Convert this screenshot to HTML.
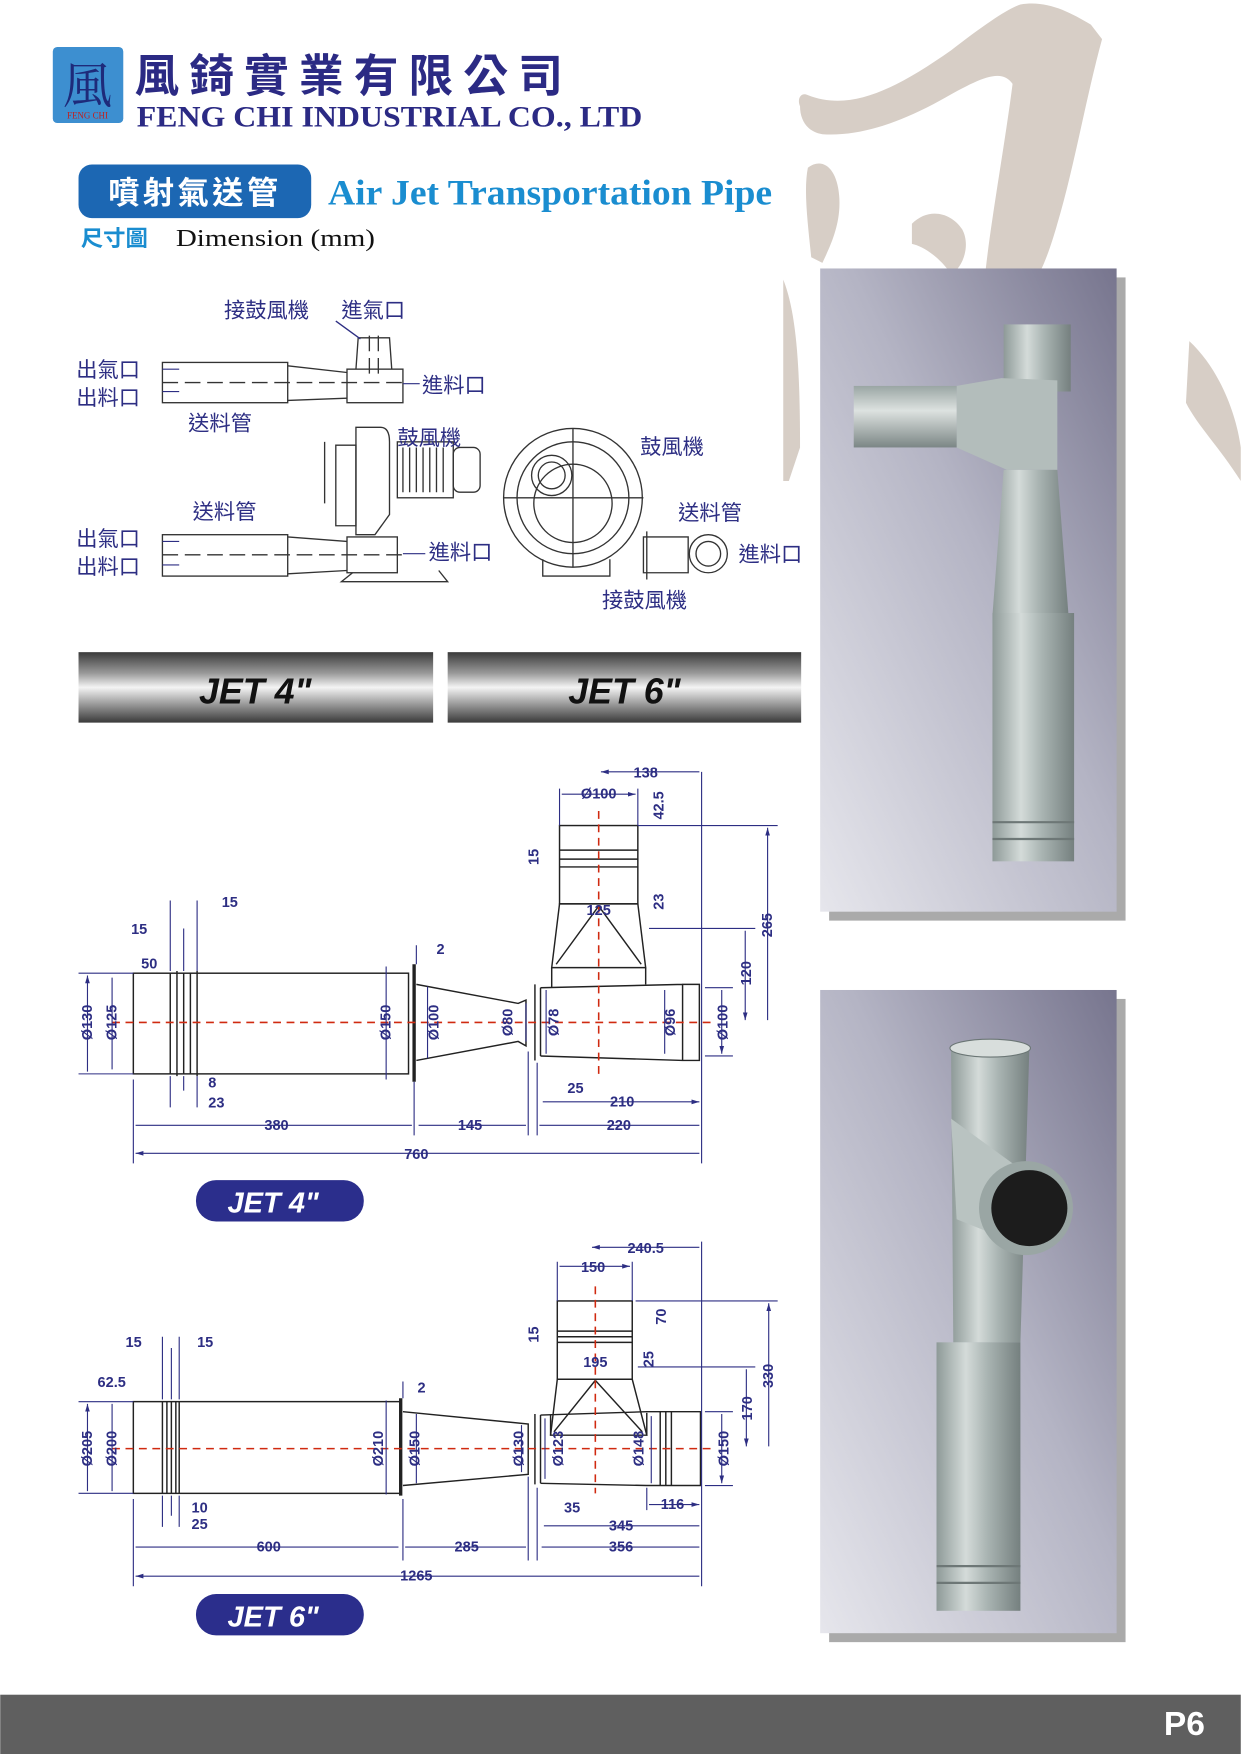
<!DOCTYPE html>
<html><head><meta charset="utf-8">
<style>
html,body{margin:0;padding:0;background:#fff;}
svg{display:block;}
.cj{font-family:"Liberation Sans","Noto Sans CJK TC",sans-serif;}
.d{font-family:"Liberation Sans",sans-serif;font-weight:bold;font-size:13px;fill:#2d2e83;}
</style></head>
<body>
<svg width="1241" height="1754" viewBox="0 0 1109 1568" xmlns="http://www.w3.org/2000/svg">
<defs>
<linearGradient id="bar" x1="0" y1="0" x2="0" y2="1">
<stop offset="0" stop-color="#3a3a3a"/><stop offset="0.3" stop-color="#9a9a9a"/><stop offset="0.5" stop-color="#f4f4f4"/><stop offset="0.7" stop-color="#a8a8a8"/><stop offset="1" stop-color="#3a3a3a"/>
</linearGradient>
<linearGradient id="ph" x1="1" y1="0" x2="0" y2="1">
<stop offset="0" stop-color="#77758e"/><stop offset="0.45" stop-color="#b4b4c4"/><stop offset="1" stop-color="#e6e6ec"/>
</linearGradient>
<linearGradient id="metal" x1="0" y1="0" x2="1" y2="0">
<stop offset="0" stop-color="#8e9a98"/><stop offset="0.35" stop-color="#d4dbd9"/><stop offset="0.6" stop-color="#aab5b3"/><stop offset="1" stop-color="#75807f"/>
</linearGradient>
<linearGradient id="metalh" x1="0" y1="0" x2="0" y2="1">
<stop offset="0" stop-color="#9aa6a4"/><stop offset="0.4" stop-color="#dde2e0"/><stop offset="1" stop-color="#7b8685"/>
</linearGradient>
<marker id="a" viewBox="0 0 10 10" refX="10" refY="5" markerWidth="7" markerHeight="7" orient="auto-start-reverse"><path d="M0,2 L10,5 L0,8z" fill="#2d2e83"/></marker>
</defs>

<!-- watermark brush -->
<g fill="#d7cec6">
<path d="M715,95 C712,88 716,82 722,85 C760,100 800,80 850,45 C880,22 900,8 912,4 C935,0 955,10 975,22 L985,35 C970,90 960,150 945,200 C938,225 930,245 925,250 L880,250 C885,200 898,130 905,75 C895,60 875,70 840,90 C800,112 765,122 735,120 C722,118 715,108 715,95Z"/>
<path d="M722,150 C735,140 748,150 750,175 C752,200 742,220 735,235 L725,230 C722,200 718,170 722,150Z"/>
<path d="M815,200 C830,185 850,190 860,205 C868,220 860,240 850,245 C840,230 825,220 815,218Z"/>
<path d="M700,250 C712,280 715,330 715,400 L705,430 L700,430Z"/>
<path d="M1063,305 C1090,330 1105,370 1109,400 L1109,430 C1090,400 1070,380 1060,360Z"/>
</g>

<!-- logo -->
<rect x="47" y="42" width="63" height="68" rx="4" fill="#3d8fd0"/>
<text x="78" y="92" font-family="'Noto Serif CJK SC',serif" font-size="44" fill="#1e2a7a" text-anchor="middle">風</text>
<text x="78" y="106" font-family="'Liberation Serif',serif" font-size="8" fill="#c02020" text-anchor="middle">FENG CHI</text>
<text x="120" y="82" class="cj" font-size="40" font-weight="bold" fill="#2b2a84" letter-spacing="9">風錡實業有限公司</text>
<text x="122" y="113" font-family="'Liberation Serif',serif" font-weight="bold" font-size="26" fill="#2b2a84" textLength="452" lengthAdjust="spacingAndGlyphs">FENG CHI INDUSTRIAL CO., LTD</text>

<!-- title -->
<rect x="70" y="147" width="208" height="48" rx="12" fill="#1c67b3"/>
<text x="174" y="182" class="cj" font-size="28" font-weight="bold" fill="#fff" text-anchor="middle" letter-spacing="3">噴射氣送管</text>
<text x="293" y="183" font-family="'Liberation Serif',serif" font-weight="bold" font-size="32" fill="#1a8dd0" textLength="397" lengthAdjust="spacingAndGlyphs">Air Jet Transportation Pipe</text>
<text x="72" y="220" class="cj" font-size="20" font-weight="bold" fill="#1a8dd0">尺寸圖</text>
<text x="157" y="220" font-family="'Liberation Serif',serif" font-size="22" fill="#111" textLength="178" lengthAdjust="spacingAndGlyphs">Dimension (mm)</text>

<!-- schematic -->
<g stroke="#333" stroke-width="1.2" fill="none">
<rect x="145" y="324" width="112" height="36"/>
<path d="M257,327 L310,333 M257,358 L310,356"/>
<rect x="310" y="330" width="50" height="30"/>
<path d="M318,330 L320,302 L348,302 L350,330"/>
<path d="M330,300 V340 M338,300 V340 M145,342 H360" stroke-dasharray="14,6"/>
<rect x="145" y="478" width="112" height="37"/>
<path d="M257,480 L310,484 M257,513 L310,510"/>
<rect x="310" y="480" width="45" height="32"/>
<path d="M145,496 H360" stroke-dasharray="14,6"/>
<path d="M318,382 H340 Q348,382 348,395 V460 L335,478 H318 Z"/>
<path d="M300,398 H318 V470 H300 Z"/>
<path d="M290,395 V450"/>
<rect x="355" y="395" width="50" height="50"/>
<rect x="405" y="400" width="24" height="40" rx="6"/>
<path d="M360,400 V440 M366,400 V440 M372,400 V440 M378,400 V440 M384,400 V440 M390,400 V440 M396,400 V440"/>
<path d="M315,512 L305,520 H400 L392,510"/>
<circle cx="512" cy="445" r="62"/>
<circle cx="512" cy="445" r="50"/>
<circle cx="512" cy="450" r="35"/>
<circle cx="493" cy="425" r="18"/>
<circle cx="493" cy="425" r="12"/>
<path d="M450,445 H575 M512,383 V507"/>
<path d="M485,500 V515 H545 V500"/>
<path d="M575,480 H615 V512 H575 Z M578,475 V518"/>
<circle cx="633" cy="495" r="17"/><circle cx="633" cy="495" r="11"/>
<path d="M300,287 L322,303" stroke="#2d2e83"/>
</g>
<g class="cj" font-size="19" fill="#2d2e83">
<text x="200" y="284">接鼓風機</text><text x="305" y="284">進氣口</text>
<text x="68" y="337">出氣口</text><text x="68" y="362">出料口</text>
<text x="377" y="351">進料口</text><text x="168" y="385">送料管</text>
<text x="355" y="398">鼓風機</text><text x="172" y="464">送料管</text>
<text x="68" y="488">出氣口</text><text x="68" y="513">出料口</text>
<text x="383" y="500">進料口</text><text x="572" y="406">鼓風機</text>
<text x="606" y="465">送料管</text><text x="660" y="502">進料口</text>
<text x="538" y="543">接鼓風機</text>
</g>
<g stroke="#2d2e83" stroke-width="1"><path d="M145,330 H160 M145,350 H160 M145,484 H160 M145,505 H160 M360,343 H375 M360,495 H380"/></g>

<!-- JET bars -->
<rect x="70" y="583" width="317" height="63" fill="url(#bar)"/>
<rect x="400" y="583" width="316" height="63" fill="url(#bar)"/>
<text x="228" y="629" font-family="'Liberation Sans',sans-serif" font-style="italic" font-weight="bold" font-size="32" fill="#111" text-anchor="middle">JET 4"</text>
<text x="558" y="629" font-family="'Liberation Sans',sans-serif" font-style="italic" font-weight="bold" font-size="32" fill="#111" text-anchor="middle">JET 6"</text>

<!-- photo 1 -->
<rect x="741" y="248" width="265" height="575" fill="#555" opacity="0.5"/>
<rect x="733" y="240" width="265" height="575" fill="url(#ph)"/>
<rect x="897" y="290" width="60" height="60" fill="url(#metal)"/>
<path d="M855,345 L895,338 L945,340 L945,420 L900,420 L855,400 Z" fill="#b3bdbb"/>
<rect x="763" y="345" width="92" height="55" fill="url(#metalh)"/>
<path d="M897,420 L945,420 L955,550 L887,550 Z" fill="url(#metal)"/>
<rect x="887" y="548" width="73" height="222" fill="url(#metal)"/>
<path d="M887,735 H960 M887,750 H960" stroke="#6d7776" stroke-width="2"/>

<!-- photo 2 -->
<rect x="741" y="893" width="265" height="575" fill="#555" opacity="0.5"/>
<rect x="733" y="885" width="265" height="575" fill="url(#ph)"/>
<path d="M850,937 L920,937 L912,1200 L852,1200 Z" fill="url(#metal)"/>
<ellipse cx="885" cy="937" rx="36" ry="8" fill="#d8dedc" stroke="#6b7675"/>
<path d="M850,1000 L905,1040 L905,1110 L855,1090Z" fill="#b9c3c1"/>
<circle cx="917" cy="1080" r="42" fill="#9aa6a4"/>
<circle cx="920" cy="1080" r="34" fill="#1c1c1c"/>
<rect x="837" y="1200" width="75" height="240" fill="url(#metal)"/>
<path d="M837,1400 H912 M837,1415 H912" stroke="#6d7776" stroke-width="2"/>

<!-- DRAWING 1 -->
<g stroke="#222" stroke-width="1.3" fill="none">
<rect x="119" y="870" width="246" height="90"/>
<path d="M152,870 V960 M158,868 V962 M164,870 V960 M170,870 V960 M176,868 V962"/>
<path d="M370,862 V967" stroke-width="3"/>
<path d="M372,880 L463,897 L470,894 V935 L463,931 L372,948"/>
<path d="M478,880 V948 M483,883 V944"/>
<path d="M483,883 L610,880 M483,944 L610,948 M610,880 H625 V948 H610 Z"/>
<rect x="500" y="738" width="70" height="70"/>
<path d="M500,760 H570 M500,768 H570 M500,775 H570"/>
<path d="M500,808 L493,865 H577 L570,808 Z M535,810 L497,862 M535,810 L573,862"/>
<path d="M493,865 V883 M577,865 V880"/>
</g>
<g stroke="#d02a10" stroke-width="1.4" stroke-dasharray="7,5"><path d="M100,914 H640 M535,725 V960"/></g>
<g stroke="#2d2e83" stroke-width="1" fill="none">
<path d="M119,965 V1040 M627,690 V1040 M370,967 V1015 M472,940 V1015 M480,950 V1015"/>
<path d="M152,805 V868 M164,830 V868 M176,805 V868 M152,962 V990 M164,962 V975 M176,962 V990 M372,845 V862"/>
<path d="M121,1031 H625 M121,1006 H368 M374,1006 H470 M482,1006 H625 M485,985 H625" marker-start="url(#a)" marker-end="url(#a)"/>
<path d="M537,690 H625 M502,710 H568" marker-start="url(#a)" marker-end="url(#a)"/>
<path d="M686,740 V912 M666,832 V912" marker-start="url(#a)" marker-end="url(#a)"/>
<path d="M78,872 V958 M100,874 V956 M345,864 V965 M382,882 V946 M470,897 V931 M488,885 V942 M594,885 V942 M645,885 V942" marker-start="url(#a)" marker-end="url(#a)"/>
<path d="M70,870 H119 M70,960 H119 M570,738 H695 M580,830 H675 M630,883 H655 M630,944 H655 M500,705 V738 M570,705 V738"/>
</g>
<g class="d">
<text x="247" y="1010" text-anchor="middle">380</text><text x="420" y="1010" text-anchor="middle">145</text><text x="553" y="1010" text-anchor="middle">220</text>
<text x="372" y="1036" text-anchor="middle">760</text><text x="556" y="989" text-anchor="middle">210</text><text x="507" y="977">25</text>
<text x="577" y="695" text-anchor="middle">138</text><text x="535" y="714" text-anchor="middle">Ø100</text><text x="535" y="818" text-anchor="middle">125</text>
<text x="198" y="811">15</text><text x="117" y="835">15</text><text x="126" y="866">50</text><text x="390" y="853">2</text>
<text x="186" y="972">8</text><text x="186" y="990">23</text>
<text transform="translate(593,720) rotate(-90)" text-anchor="middle">42.5</text>
<text transform="translate(593,806) rotate(-90)" text-anchor="middle">23</text>
<text transform="translate(481,766) rotate(-90)" text-anchor="middle">15</text>
<text transform="translate(690,827) rotate(-90)" text-anchor="middle">265</text>
<text transform="translate(671,870) rotate(-90)" text-anchor="middle">120</text>
<text transform="translate(82,914) rotate(-90)" text-anchor="middle">Ø130</text>
<text transform="translate(104,914) rotate(-90)" text-anchor="middle">Ø125</text>
<text transform="translate(349,914) rotate(-90)" text-anchor="middle">Ø150</text>
<text transform="translate(392,914) rotate(-90)" text-anchor="middle">Ø100</text>
<text transform="translate(458,914) rotate(-90)" text-anchor="middle">Ø80</text>
<text transform="translate(499,914) rotate(-90)" text-anchor="middle">Ø78</text>
<text transform="translate(603,914) rotate(-90)" text-anchor="middle">Ø96</text>
<text transform="translate(650,914) rotate(-90)" text-anchor="middle">Ø100</text>
</g>
<rect x="175" y="1055" width="150" height="37" rx="18" fill="#2b2e8c"/>
<text x="244" y="1084" font-family="'Liberation Sans',sans-serif" font-style="italic" font-weight="bold" font-size="26" fill="#fff" text-anchor="middle">JET 4"</text>

<!-- DRAWING 2 -->
<g stroke="#222" stroke-width="1.3" fill="none">
<rect x="119" y="1253" width="239" height="82"/>
<path d="M145,1253 V1335 M149,1253 V1335 M153,1253 V1335 M157,1253 V1335 M160,1253 V1335"/>
<path d="M358,1250 V1337" stroke-width="3"/>
<path d="M360,1262 L472,1273 V1318 L360,1328"/>
<path d="M478,1264 V1327 M483,1265 V1326"/>
<path d="M483,1265 L578,1262 H626 V1328 H578 L483,1326"/>
<path d="M590,1262 V1328 M595,1262 V1328 M600,1262 V1328"/>
<rect x="498" y="1163" width="67" height="70"/>
<path d="M498,1190 H565 M498,1195 H565 M498,1200 H565"/>
<path d="M498,1233 L492,1283 H578 L565,1233 Z M532,1234 L495,1280 M532,1234 L574,1280"/>
<path d="M492,1283 V1265 M578,1283 V1263"/>
</g>
<g stroke="#d02a10" stroke-width="1.4" stroke-dasharray="7,5"><path d="M100,1295 H640 M532,1150 V1335"/></g>
<g stroke="#2d2e83" stroke-width="1" fill="none">
<path d="M119,1340 V1418 M627,1110 V1418 M360,1340 V1395 M472,1320 V1395 M480,1330 V1395 M578,1330 V1350"/>
<path d="M145,1195 V1251 M153,1205 V1251 M160,1195 V1251 M145,1337 V1365 M153,1337 V1355 M160,1337 V1365 M360,1235 V1250"/>
<path d="M121,1409 H625 M121,1383 H356 M362,1383 H470 M484,1383 H625 M486,1364 H625 M580,1345 H625" marker-start="url(#a)" marker-end="url(#a)"/>
<path d="M529,1115 H625 M500,1132 H563" marker-start="url(#a)" marker-end="url(#a)"/>
<path d="M687,1165 V1293 M667,1224 V1293" marker-start="url(#a)" marker-end="url(#a)"/>
<path d="M78,1255 V1333 M100,1255 V1333 M345,1252 V1336 M372,1264 V1326 M466,1274 V1316 M487,1268 V1322 M582,1266 V1326 M645,1264 V1326" marker-start="url(#a)" marker-end="url(#a)"/>
<path d="M70,1253 H119 M70,1335 H119 M568,1163 H695 M570,1222 H675 M630,1262 H655 M630,1328 H655 M498,1128 V1163 M565,1128 V1163"/>
</g>
<g class="d">
<text x="240" y="1387" text-anchor="middle">600</text><text x="417" y="1387" text-anchor="middle">285</text><text x="555" y="1387" text-anchor="middle">356</text>
<text x="372" y="1413" text-anchor="middle">1265</text><text x="555" y="1368" text-anchor="middle">345</text><text x="601" y="1349" text-anchor="middle">116</text><text x="504" y="1352">35</text>
<text x="577" y="1120" text-anchor="middle">240.5</text><text x="530" y="1137" text-anchor="middle">150</text><text x="532" y="1222" text-anchor="middle">195</text>
<text x="176" y="1204">15</text><text x="112" y="1204">15</text><text x="87" y="1240">62.5</text><text x="373" y="1245">2</text>
<text x="171" y="1352">10</text><text x="171" y="1367">25</text>
<text transform="translate(595,1177) rotate(-90)" text-anchor="middle">70</text>
<text transform="translate(584,1215) rotate(-90)" text-anchor="middle">25</text>
<text transform="translate(481,1193) rotate(-90)" text-anchor="middle">15</text>
<text transform="translate(691,1230) rotate(-90)" text-anchor="middle">330</text>
<text transform="translate(672,1259) rotate(-90)" text-anchor="middle">170</text>
<text transform="translate(82,1295) rotate(-90)" text-anchor="middle">Ø205</text>
<text transform="translate(104,1295) rotate(-90)" text-anchor="middle">Ø200</text>
<text transform="translate(342,1295) rotate(-90)" text-anchor="middle">Ø210</text>
<text transform="translate(375,1295) rotate(-90)" text-anchor="middle">Ø150</text>
<text transform="translate(468,1295) rotate(-90)" text-anchor="middle">Ø130</text>
<text transform="translate(503,1295) rotate(-90)" text-anchor="middle">Ø123</text>
<text transform="translate(575,1295) rotate(-90)" text-anchor="middle">Ø148</text>
<text transform="translate(651,1295) rotate(-90)" text-anchor="middle">Ø150</text>
</g>
<rect x="175" y="1425" width="150" height="37" rx="18" fill="#2b2e8c"/>
<text x="244" y="1454" font-family="'Liberation Sans',sans-serif" font-style="italic" font-weight="bold" font-size="26" fill="#fff" text-anchor="middle">JET 6"</text>

<!-- footer -->
<rect x="0" y="1515" width="1109" height="53" fill="#5f5f5f"/>
<text x="1077" y="1551" font-family="'Liberation Sans',sans-serif" font-weight="bold" font-size="30" fill="#fff" text-anchor="end">P6</text>
</svg>
</body></html>
